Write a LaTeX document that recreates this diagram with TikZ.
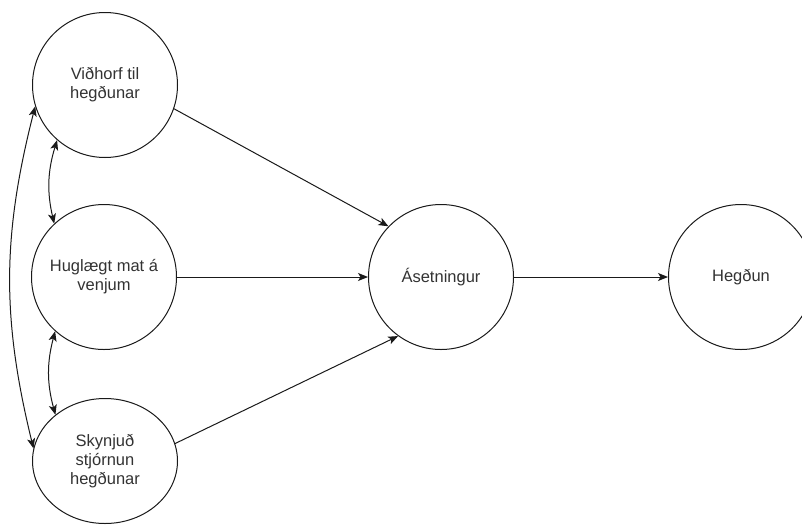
\documentclass[tikz,border=0pt]{standalone}
\usepackage{fontspec}
\setmainfont{Liberation Sans}
\usetikzlibrary{arrows.meta,shapes.geometric}
\definecolor{txt}{HTML}{333333}
\definecolor{strk}{HTML}{1A1A1A}
\tikzset{
  circ/.style={circle,draw=strk,line width=1pt,minimum size=145pt,inner sep=0pt,
    align=center,text=txt,font=\fontsize{16.5}{19}\selectfont},
  ell/.style={ellipse,draw=strk,line width=1pt,minimum width=145pt,minimum height=125pt,inner sep=0pt,
    align=center,text=txt,font=\fontsize{16.5}{19}\selectfont},
  conn/.style={draw=strk,line width=1pt,-{Stealth[length=10pt,width=8pt,inset=2.5pt]}},
  bidir/.style={draw=strk,line width=1pt,{Stealth[length=10pt,width=8pt,inset=2.5pt]}-{Stealth[length=10pt,width=8pt,inset=2.5pt]}}
}
\begin{document}
\begin{tikzpicture}[x=1pt,y=-1pt]
\useasboundingbox (0,0) rectangle (802,525);
\clip (0,0) rectangle (802,525);
\fill[white] (0,0) rectangle (802,525);
\node[circ] (v) at (105,85) {Viðhorf til\\hegðunar};
\node[circ] (m) at (104,277) {Huglægt mat á\\venjum};
\node[ell] (s) at (105,461) {Skynjuð\\stjórnun\\hegðunar};
\node[circ] (a) at (441,277) {Ásetningur};
\node[circ] (h) at (741,277) {Hegðun};
\draw[conn] (v.-19) -- (a.136);
\draw[conn] (m.east) -- (a.west);
\draw[conn] (s.14) -- (a.234);
\draw[conn] (a.east) -- (h.west);
\draw[bidir] (v.229) to[bend right=15] (m.133);
\draw[bidir] (m.228) to[bend right=15] (s.137);
\draw[bidir] (v.197) to[bend right=14] (s.170);
\end{tikzpicture}
\end{document}
